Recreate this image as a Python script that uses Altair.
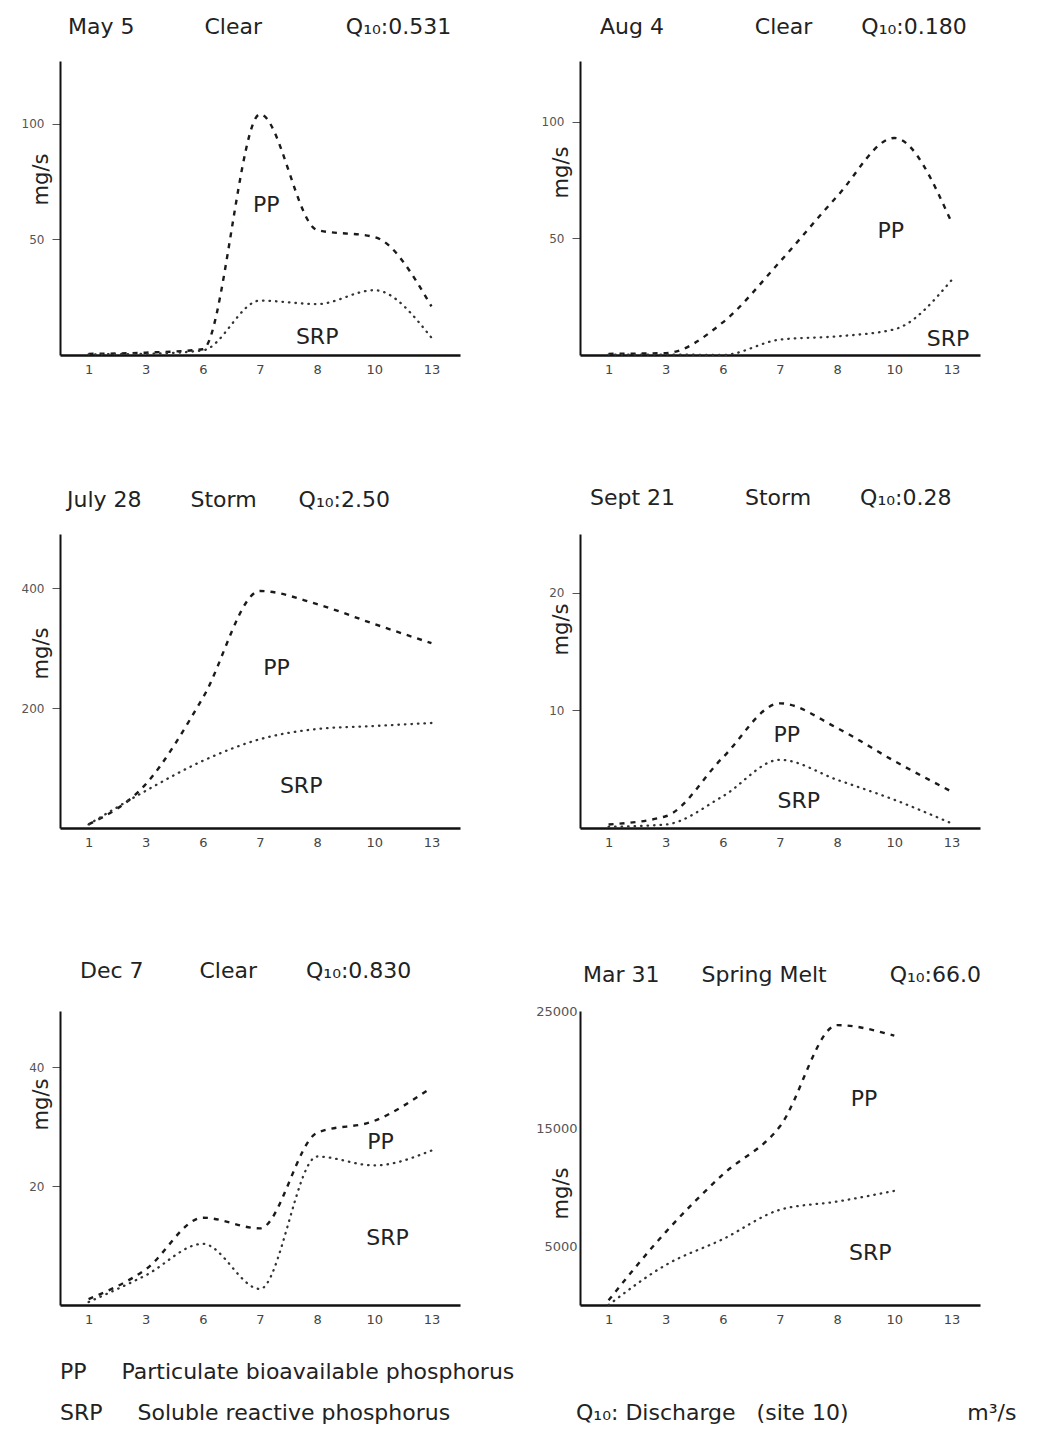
import altair as alt
import pandas as pd

# ---------------- data ----------------
sites = [1, 3, 6, 7, 8, 10, 13]

may5_pp = [0.5, 1.0, 2.5, 104, 54, 51, 21]
may5_srp = [0.3, 0.5, 2.0, 23.5, 22, 28, 7.5]
aug4_pp = [0.5, 0.8, 14, 40, 68, 93, 57]
aug4_srp = [0.2, 0.2, 0.0, 6.6, 8, 11, 32]
jul28_pp = [6, 73, 217, 395, 373, 340, 308]
jul28_srp = [6, 62, 112, 148, 165, 170, 175]
sep21_pp = [0.3, 1.0, 6.0, 10.6, 8.5, 5.7, 3.1]
sep21_srp = [0.1, 0.3, 2.7, 5.8, 4.1, 2.4, 0.4]
dec7_pp = [1.0, 6.0, 14.7, 12.9, 29, 31, 36.6]
dec7_srp = [0.5, 5.0, 10.3, 2.7, 25, 23.5, 26]
mar31_pp = [400, 6200, 11100, 15200, 23800, 22900, None]
mar31_srp = [0, 3400, 5600, 8100, 8800, 9700, None]

footer_line1 = ["PP", "Particulate bioavailable phosphorus"]
footer_line2 = ["SRP", "Soluble reactive phosphorus", "Q₁₀: Discharge", "(site 10)", "m³/s"]

# ---------------- helpers ----------------
FONT = "DejaVu Sans"
NBSP = "\u00a0"
W = {' ': 318, NBSP: 318, '.': 318, ':': 337, '(': 390, ')': 390, '/': 337,
     'M': 863, 'a': 613, 'y': 592, 'C': 698, 'l': 278, 'e': 615, 'r': 411,
     'Q': 787, 'A': 684, 'u': 634, 'g': 635, 'J': 295, 'S': 635, 't': 392,
     'o': 612, 'm': 974, 'p': 635, 'D': 770, 'c': 550, 'i': 278, 'n': 634,
     'P': 603, 'R': 695, 'h': 634, 'b': 635, 'v': 592, 's': 521, 'd': 635,
     '₁': 401, '₀': 401, '³': 401}
for ch in "0123456789":
    W[ch] = 636


def text_w(s, size):
    return sum(W.get(c, 600) for c in s) / 1000 * size


def spaced(pieces, starts, size):
    out = pieces[0]
    end = starts[0] + text_w(pieces[0], size)
    sp = W[NBSP] / 1000 * size
    for piece, st in zip(pieces[1:], starts[1:]):
        n = max(1, round((st - end) / sp))
        out += NBSP * n + piece
        end += n * sp + text_w(piece, size)
    return out


label_expr = "[" + ",".join(f"'{s}'" for s in sites) + "][datum.value]"

panels = [
    dict(pieces=["May 5", "Clear", "Q₁₀:0.531"], starts=[8, 143, 288],
         pp=may5_pp, srp=may5_srp, ydom=[0, 127], yticks=[50, 100],
         lab=[(3.11, 65), (4.0, 7.7)], ty=118, ticks=True, toff=22),
    dict(pieces=["Aug 4", "Clear", "Q₁₀:0.180"], starts=[20, 172, 278],
         pp=aug4_pp, srp=aug4_srp, ydom=[0, 126], yticks=[50, 100],
         lab=[(4.94, 53), (5.94, 7)], ty=111, ticks=True, toff=22),
    dict(pieces=["July 28", "Storm", "Q₁₀:2.50"], starts=[7, 132, 238],
         pp=jul28_pp, srp=jul28_srp, ydom=[0, 490], yticks=[200, 400],
         lab=[(3.29, 267), (3.72, 70)], ty=119, ticks=True, toff=22),
    dict(pieces=["Sept 21", "Storm", "Q₁₀:0.28"], starts=[10, 167, 280],
         pp=sep21_pp, srp=sep21_srp, ydom=[0, 25], yticks=[10, 20],
         lab=[(3.12, 7.9), (3.33, 2.3)], ty=95, ticks=True, toff=24),
    dict(pieces=["Dec 7", "Clear", "Q₁₀:0.830"], starts=[20, 140, 248],
         pp=dec7_pp, srp=dec7_srp, ydom=[0, 49.5], yticks=[20, 40],
         lab=[(5.11, 27.5), (5.23, 11.2)], ty=93, ticks=True, toff=28),
    dict(pieces=["Mar 31", "Spring Melt", "Q₁₀:66.0"], starts=[3, 123, 313],
         pp=mar31_pp, srp=mar31_srp, ydom=[0, 25000], yticks=[5000, 15000, 25000],
         lab=[(4.47, 17500), (4.58, 4400)], ty=182, ticks=False, toff=18),
]

W_PLOT, H_PLOT = 400, 294
TITLE_SIZE = 22


def make_panel(p):
    rows = []
    for i, s in enumerate(sites):
        if p["pp"][i] is not None:
            rows.append({"idx": i, "value": p["pp"][i], "series": "PP"})
        if p["srp"][i] is not None:
            rows.append({"idx": i, "value": p["srp"][i], "series": "SRP"})
    df = pd.DataFrame(rows)
    lab_df = pd.DataFrame({"idx": [p["lab"][0][0], p["lab"][1][0]],
                           "value": [p["lab"][0][1], p["lab"][1][1]],
                           "t": ["PP", "SRP"]})

    x = alt.X("idx:Q",
              scale=alt.Scale(domain=[-0.5, 6.5], nice=False, zero=False),
              axis=alt.Axis(values=list(range(7)), labelExpr=label_expr, title=None,
                            ticks=False, labelPadding=8, labelFontSize=13,
                            labelColor="#444", labelFont=FONT, grid=False,
                            domainColor="#111", domainWidth=2.5))
    yaxis = alt.Axis(values=p["yticks"], format="d", title="mg/s", titleX=-19,
                     titleY=p["ty"], titleAngle=270, titleAlign="center",
                     titleBaseline="middle", titleFontSize=21, titleFont=FONT,
                     titleFontWeight="normal", titleColor="#222",
                     labelFontSize=12 if p["ticks"] else 13, labelColor="#555",
                     labelFont=FONT, ticks=p["ticks"], tickSize=8, tickColor="#555",
                     labelPadding=8 if p["ticks"] else 3, grid=False,
                     domainColor="#111", domainWidth=2, minExtent=45, maxExtent=45)
    y = alt.Y("value:Q", scale=alt.Scale(domain=p["ydom"], nice=False, zero=True),
              axis=yaxis)

    base = alt.Chart(df)
    pp = base.transform_filter("datum.series == 'PP'").mark_line(
        interpolate="monotone", color="#1a1a1a", strokeWidth=2.4,
        strokeDash=[5, 6]).encode(x=x, y=y)
    srp = base.transform_filter("datum.series == 'SRP'").mark_line(
        interpolate="monotone", color="#333", strokeWidth=2.3, strokeCap="round",
        strokeDash=[0.5, 6]).encode(x=x, y=y)
    txt = alt.Chart(lab_df).mark_text(
        font=FONT, fontSize=22, color="#222", align="center", baseline="middle"
    ).encode(x=x, y=y, text="t:N")

    title = alt.TitleParams(
        text=spaced(p["pieces"], p["starts"], TITLE_SIZE), anchor="start",
        frame="group", dx=p["starts"][0], fontSize=TITLE_SIZE, font=FONT,
        fontWeight="normal", color="#222", offset=p["toff"])
    return alt.layer(pp, srp, txt).properties(width=W_PLOT, height=H_PLOT, title=title)


charts = [make_panel(p) for p in panels]

FOOT = 22
line1 = spaced(footer_line1, [0, 62], FOOT)
line2 = spaced(footer_line2, [0, 80, 518, 700, 910], FOOT)

chart = alt.concat(*charts, columns=2, spacing={"row": 111, "column": 75}).properties(
    title=alt.TitleParams(text=[line1, line2], orient="bottom", anchor="start",
                          frame="bounds", dx=45, fontSize=FOOT, font=FONT,
                          fontWeight="normal", color="#222", lineHeight=41,
                          offset=36),
    padding={"left": 7, "top": 8, "right": 5, "bottom": 5},
    background="white",
).configure_view(strokeWidth=0, stroke="transparent")

chart.save("out.html", embed_options={"renderer": "svg", "actions": False})
